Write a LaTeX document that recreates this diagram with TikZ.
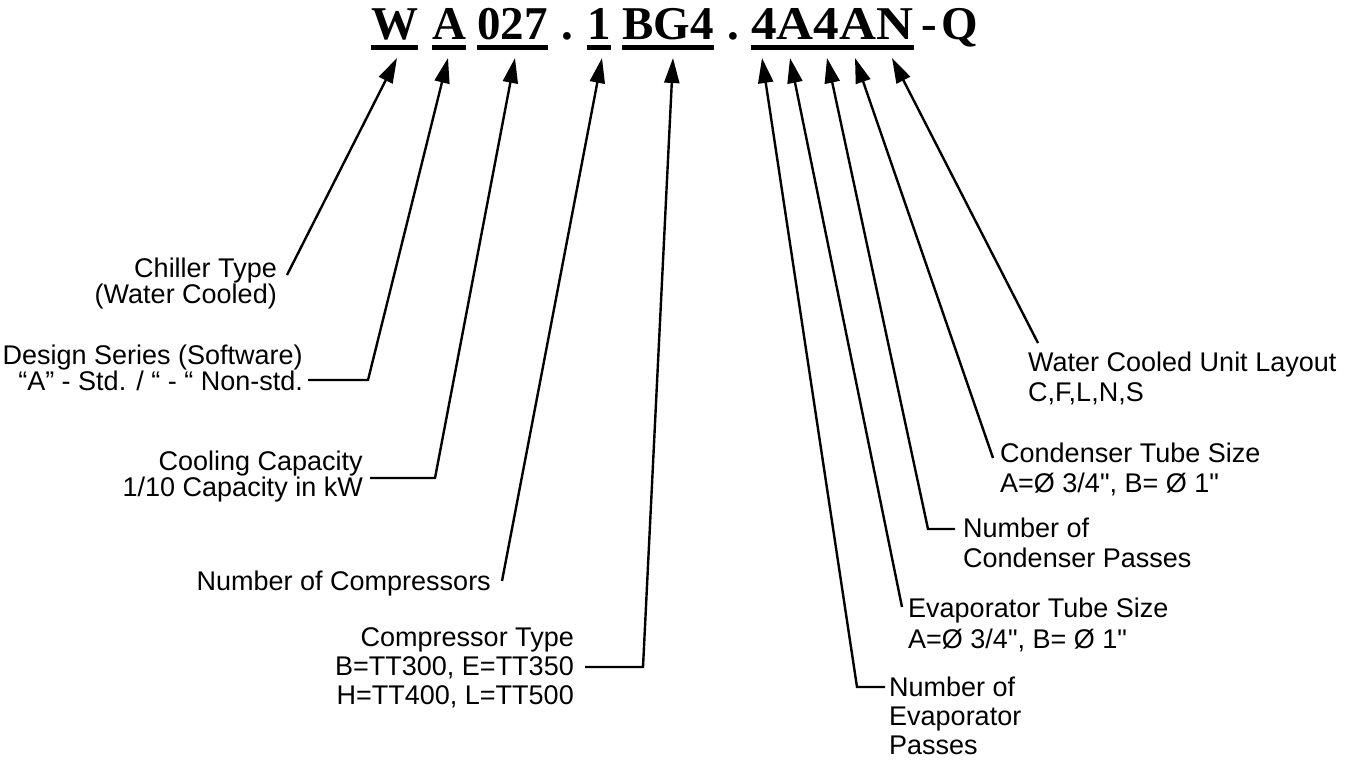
\documentclass[tikz,border=0pt]{standalone}
\usepackage{fontspec}
\usetikzlibrary{arrows.meta}
\newfontfamily\lblfont{Liberation Sans}
\newfontfamily\ttlfont{Liberation Serif}
\tikzset{
  lbl/.style={inner sep=0pt, font=\lblfont\fontsize{27}{#1}\selectfont},
  lbl/.default=28,
  lblR/.style={lbl=#1, align=right, anchor=north east},
  lblR/.default=28,
  lblL/.style={lbl=#1, align=left, anchor=north west},
  lblL/.default=30,
  tokb/.style={inner sep=0pt, anchor=base west, font=\ttlfont\bfseries\fontsize{47}{50}\selectfont},
  uline/.style={line width=5pt},
  conn/.style={line width=2.4pt, -{Triangle[length=25pt,width=15pt]}},
}
\begin{document}
\begin{tikzpicture}[x=1pt,y=-1pt]
\useasboundingbox[fill=white] (0,0) rectangle (1348,761);

% ---- title tokens ----
\node[tokb] (tW)   at (371,39) {W};
\node[tokb] (tA)   at (432,39) {A};
\node[tokb] (tcap) at (477,39) {027};
\node[tokb] (td1)  at (561,39) {.};
\node[tokb] (tn)   at (587,39) {1};
\node[tokb] (tct)  at (622,39) {BG4};
\node[tokb] (td2)  at (727,39) {.};
\node[tokb] (tcfg) at (751,39) {\scalebox{1.09}[1]{4A4AN}};
\node[tokb] (tdash) at (921,39) {-};
\node[tokb] (tq)   at (941,39) {Q};

\foreach \t in {tW,tA,tcap,tn,tct,tcfg}
  \draw[uline] ([yshift=-8.5pt]\t.base west) -- ([yshift=-8.5pt]\t.base east);

% ---- arrow tips ----
\coordinate (aW) at (397,58);
\coordinate (aA) at (448,58);
\coordinate (aC) at (515,58);
\coordinate (aN) at (602,58);
\coordinate (aT) at (673,58);
\coordinate (a1) at (762,58);
\coordinate (a2) at (790,58);
\coordinate (a3) at (827,58);
\coordinate (a4) at (855,58);
\coordinate (a5) at (892,58);

% ---- left labels ----
\node[lblR=25] (chiller) at (277,258) {Chiller Type\\(Water Cooled)};
\node[lblR=24] (design) at (303,345) {Design Series (Software)\\“A” - Std. / “ - “ Non-std.};
\node[lblR=25] (cooling) at (363,451) {Cooling Capacity\\1/10 Capacity in kW};
\node[lblR] (ncomp) at (491,571) {Number of Compressors};
\node[lblR=29] (ctype) at (574,627) {Compressor Type\\B=TT300, E=TT350\\H=TT400, L=TT500};

% ---- right labels ----
\node[lblL=30] (wcul) at (1028,352) {Water Cooled Unit Layout\\C,F,L,N,S};
\node[lblL=30] (ctube) at (1000,443) {Condenser Tube Size\\A=Ø 3/4", B= Ø 1"};
\node[lblL=30] (ncp) at (963,518) {Number of\\Condenser Passes};
\node[lblL=31] (etube) at (908,598) {Evaporator Tube Size\\A=Ø 3/4", B= Ø 1"};
\node[lblL=29] (nep) at (889,677) {Number of\\Evaporator\\Passes};

% ---- connector ends ----
\coordinate (eW) at (287,275);
\coordinate (eA1) at (308,380);  \coordinate (eA2) at (368,380);
\coordinate (eC1) at (370,478);  \coordinate (eC2) at (435,478);
\coordinate (eN) at (502,581);
\coordinate (eT1) at (585,667);  \coordinate (eT2) at (643,667);
\coordinate (e11) at (885,687);  \coordinate (e12) at (857,687);
\coordinate (e2) at (902,607);
\coordinate (e31) at (955,529);  \coordinate (e32) at (928,529);
\coordinate (e4) at (993,458);
\coordinate (e5) at (1038,343);

\draw[conn] (eW) -- (aW);
\draw[conn] (eA1) -- (eA2) -- (aA);
\draw[conn] (eC1) -- (eC2) -- (aC);
\draw[conn] (eN) -- (aN);
\draw[conn] (eT1) -- (eT2) -- (aT);
\draw[conn] (e11) -- (e12) -- (a1);
\draw[conn] (e2) -- (a2);
\draw[conn] (e31) -- (e32) -- (a3);
\draw[conn] (e4) -- (a4);
\draw[conn] (e5) -- (a5);
\end{tikzpicture}
\end{document}
